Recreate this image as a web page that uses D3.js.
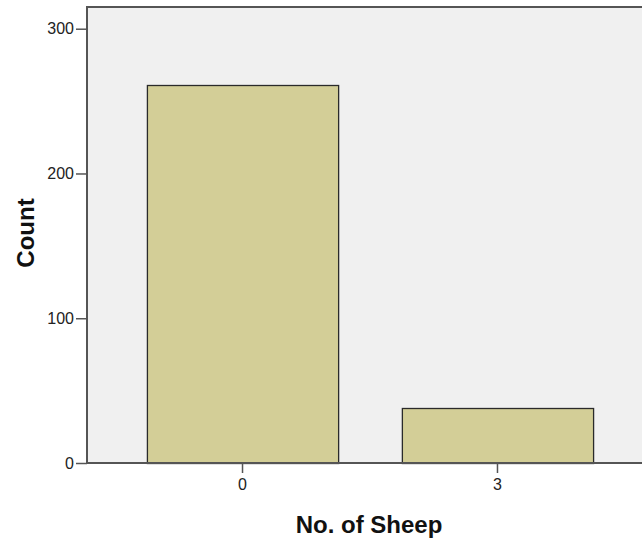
<!DOCTYPE html>
<html>
<head>
<meta charset="utf-8">
<script src="https://cdn.jsdelivr.net/npm/d3@7"></script>
<style>
  html, body { margin: 0; padding: 0; background: #fff; }
  svg { display: block; }
</style>
</head>
<body>
<svg id="chart" width="642" height="541"></svg>
<script>
const categories = ["0", "3"];
const counts = [261, 38];
const yTicks = [0, 100, 200, 300];
const xTitle = "No. of Sheep";
const yTitle = "Count";

(function () {
const svg = d3.select("#chart");
const mLeft = 87, mTop = 7, mBottom = 463, mRight = 653;

const x = d3.scaleBand().domain(categories).range([mLeft, mRight])
  .paddingInner(0.25).paddingOuter(0.235);
const y = d3.scaleLinear().domain([0, 315]).range([mBottom, mTop]);

// plot background
svg.append("rect").attr("x", mLeft).attr("y", mTop)
  .attr("width", mRight - mLeft).attr("height", mBottom - mTop)
  .attr("fill", "#f0f0f0");

// bars
svg.selectAll("rect.bar").data(categories).join("rect")
  .attr("class", "bar")
  .attr("x", d => x(d) + 0.5)
  .attr("y", (d, i) => Math.round(y(counts[i])) + 0.5)
  .attr("width", x.bandwidth())
  .attr("height", (d, i) => mBottom - Math.round(y(counts[i])))
  .attr("fill", "#d3ce97")
  .attr("stroke", "#2a2a2a")
  .attr("stroke-width", 1.3);

// frame line (top)
svg.append("line").attr("x1", mLeft).attr("x2", mRight).attr("y1", mTop).attr("y2", mTop)
  .attr("stroke", "#555").attr("stroke-width", 2);

// y axis
const yAxis = svg.append("g").attr("transform", `translate(${mLeft},0)`)
  .call(d3.axisLeft(y).tickValues(yTicks).tickSize(11).tickPadding(2).tickFormat(d3.format("d")));
yAxis.select(".domain").attr("d", `M0,${mTop - 1}V${mBottom}`).attr("stroke", "#555").attr("stroke-width", 2);
yAxis.selectAll(".tick line").attr("stroke", "#555").attr("stroke-width", 1.5);
yAxis.selectAll(".tick text").attr("font-family", "Liberation Sans, Arial, sans-serif")
  .attr("font-size", 16).attr("fill", "#222");

// x axis
const xAxis = svg.append("g").attr("transform", `translate(0,${mBottom})`)
  .call(d3.axisBottom(x).tickSize(10).tickPadding(6));
xAxis.select(".domain").attr("d", `M${mLeft},0H${mRight}`).attr("stroke", "#555").attr("stroke-width", 2);
xAxis.selectAll(".tick line").attr("stroke", "#555").attr("stroke-width", 1.5);
xAxis.selectAll(".tick text").attr("font-family", "Liberation Sans, Arial, sans-serif")
  .attr("font-size", 16).attr("fill", "#222");

// titles
svg.append("text").attr("x", (mLeft + mRight) / 2 - 1).attr("y", 533)
  .attr("text-anchor", "middle")
  .attr("font-family", "Liberation Sans, Arial, sans-serif")
  .attr("font-weight", "bold").attr("font-size", 24).attr("fill", "#111")
  .text(xTitle);

svg.append("text")
  .attr("transform", `translate(34,${(mTop + mBottom) / 2 - 2}) rotate(-90)`)
  .attr("text-anchor", "middle")
  .attr("font-family", "Liberation Sans, Arial, sans-serif")
  .attr("font-weight", "bold").attr("font-size", 24).attr("fill", "#111")
  .text(yTitle);
})();
</script>
</body>
</html>
